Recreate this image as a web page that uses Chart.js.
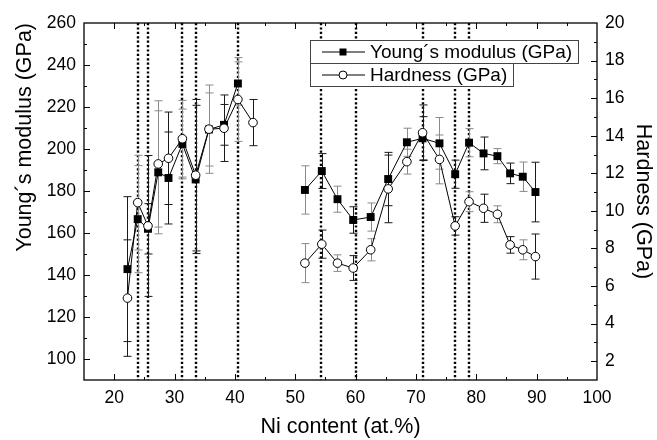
<!DOCTYPE html>
<html>
<head>
<meta charset="utf-8">
<script src="https://cdn.jsdelivr.net/npm/chart.js@4/dist/chart.umd.min.js"></script>
<style>
  html, body { margin: 0; padding: 0; background: #fff; }
  #wrap { width: 657px; height: 440px; }
</style>
</head>
<body>
<div id="wrap"><canvas id="chart" width="657" height="440"></canvas></div>
<script>
  // Ni content of each sample (at.%)
  const niContent = [22.2, 23.9, 25.6, 27.3, 29.0, 31.3, 33.5, 35.7, 38.2, 40.5, 43.0,
    51.6, 54.4, 57.0, 59.6, 62.5, 65.4, 68.5, 71.1, 73.9, 76.5, 78.8, 81.2, 83.5, 85.6, 87.7, 89.8];
  const youngModulus = [142.8, 166.6, 162.0, 188.9, 186.2, 202.4, 185.5, 209.3, 211.5, 231.2, null,
    180.5, 189.5, 176.1, 166.2, 167.6, 185.7, 203.2, 205.1, 202.7, 188.0, 203.0, 197.9, 196.6, 188.4, 186.8, 179.5];
  const youngError = [34.5, 25.5, 12, 29.3, 21.9, 16.6, 35.3, 17.4, 9.7, 10.3, null,
    11.5, 8.3, 6.2, 6.3, 6.7, 12.7, 6.7, 10.3, 12.3, 6.7, 6.7, 7.8, 3.6, 4.9, 7.0, 14.2];
  const hardness = [5.36, 10.44, 9.2, 12.5, 12.8, 13.84, 11.9, 14.35, 14.4, 15.93, 14.7,
    7.22, 8.23, 7.22, 6.96, 7.93, 11.17, 12.62, 14.16, 12.74, 9.2, 10.49, 10.14, 9.82, 8.19, 7.93, 7.57];
  const hardnessError = [3.1, 2.52, 3.75, 3.36, 2.46, 2.04, 4.03, 2.35, 1.77, 2.23, 1.23,
    1.04, 0.75, 0.44, 0.66, 0.59, 1.8, 0.66, 1.48, 1.3, 0.49, 0.53, 0.75, 0.45, 0.44, 0.53, 1.2];
  // dotted vertical lines
  const phaseBoundaries = [24.0, 25.6, 31.3, 33.5, 40.5, 54.2, 60.1, 71.2, 76.4, 78.8];

  const xTicks = [20, 30, 40, 50, 60, 70, 80, 90, 100];
  const youngTicks = [100, 120, 140, 160, 180, 200, 220, 240, 260];
  const hardnessTicks = [2, 4, 6, 8, 10, 12, 14, 16, 18, 20];

  const FONT = "'Liberation Sans', Arial, Helvetica, sans-serif";

  const toPoints = ys => niContent.map((x, i) => ({ x, y: ys[i] }));

  const overlay = {
    id: 'overlay',
    beforeDatasetsDraw(chart) {
      const { ctx, chartArea: a, scales } = chart;
      const x = scales.x;
      ctx.save();
      // phase boundaries
      ctx.strokeStyle = '#000';
      ctx.lineWidth = 2.4;
      ctx.setLineDash([2.2, 2.2]);
      phaseBoundaries.forEach(b => {
        const px = Math.round(x.getPixelForValue(b));
        ctx.beginPath(); ctx.moveTo(px, a.top); ctx.lineTo(px, a.bottom); ctx.stroke();
      });
      ctx.setLineDash([]);
      // error bars
      const bars = (vals, errs, scale) => {
        vals.forEach((v, i) => {
          if (v == null || errs[i] == null) return;
          const px = Math.round(x.getPixelForValue(niContent[i])) + 0.5;
          const t = scale.getPixelForValue(v + errs[i]);
          const b = scale.getPixelForValue(v - errs[i]);
          ctx.strokeStyle = i % 2 ? '#8a8a8a' : '#1a1a1a';
          ctx.lineWidth = 1;
          ctx.beginPath();
          ctx.moveTo(px, t); ctx.lineTo(px, b);
          ctx.moveTo(px - 4, t); ctx.lineTo(px + 4, t);
          ctx.moveTo(px - 4, b); ctx.lineTo(px + 4, b);
          ctx.stroke();
        });
      };
      bars(youngModulus, youngError, scales.y);
      bars(hardness, hardnessError, scales.y1);
      ctx.restore();
    },
    afterDraw(chart) {
      const { ctx, chartArea: a, scales: { x, y, y1 } } = chart;
      ctx.save();
      ctx.strokeStyle = '#000';
      ctx.lineWidth = 1.3;
      ctx.strokeRect(a.left, a.top, a.right - a.left, a.bottom - a.top);
      ctx.lineWidth = 1;
      ctx.beginPath();
      // x ticks, bottom and top, pointing in
      xTicks.forEach(v => {
        [[v, 6], [v - 5, 3]].forEach(([t, len]) => {
          if (t <= x.min || t >= x.max) return;
          const px = Math.round(x.getPixelForValue(t)) + 0.5;
          ctx.moveTo(px, a.bottom); ctx.lineTo(px, a.bottom - len);
          ctx.moveTo(px, a.top); ctx.lineTo(px, a.top + len);
        });
      });
      youngTicks.forEach(v => {
        [[v, 6], [v - 10, 3]].forEach(([t, len]) => {
          if (t <= y.min || t >= y.max) return;
          const py = Math.round(y.getPixelForValue(t)) + 0.5;
          ctx.moveTo(a.left, py); ctx.lineTo(a.left + len, py);
        });
      });
      hardnessTicks.forEach(v => {
        [[v, 6], [v - 1, 3]].forEach(([t, len]) => {
          if (t <= y1.min || t >= y1.max) return;
          const py = Math.round(y1.getPixelForValue(t)) + 0.5;
          ctx.moveTo(a.right, py); ctx.lineTo(a.right - len, py);
        });
      });
      ctx.stroke();

      // legend
      const rows = [
        { ds: chart.data.datasets[1], right: 578 },
        { ds: chart.data.datasets[0], right: 513 }
      ];
      const lx = 310, top = 40, rh = 23;
      ctx.font = '19px ' + FONT;
      ctx.textBaseline = 'middle';
      rows.forEach((r, i) => {
        const ty = top + i * rh;
        ctx.fillStyle = '#fff';
        ctx.fillRect(lx, ty, r.right - lx, rh);
        ctx.strokeStyle = '#444';
        ctx.lineWidth = 1;
        ctx.strokeRect(lx + 0.5, ty + 0.5, r.right - lx, rh);
        const cy = ty + rh / 2 + 0.5;
        ctx.strokeStyle = '#000';
        ctx.beginPath(); ctx.moveTo(322, cy); ctx.lineTo(365, cy); ctx.stroke();
        if (r.ds.pointStyle === 'rect') {
          ctx.fillStyle = '#000';
          ctx.fillRect(339.5, cy - 3.5, 7, 7);
        } else {
          ctx.beginPath(); ctx.arc(343, cy, 4, 0, Math.PI * 2);
          ctx.fillStyle = '#fff'; ctx.fill(); ctx.stroke();
        }
        ctx.fillStyle = '#000';
        ctx.fillText(r.ds.label, 370, cy + 1);
      });
      ctx.restore();
    }
  };

  new Chart(document.getElementById('chart'), {
    type: 'line',
    data: {
      datasets: [
        {
          label: 'Hardness (GPa)', data: toPoints(hardness), yAxisID: 'y1', order: 0,
          borderColor: '#000', borderWidth: 1, pointStyle: 'circle', pointRadius: 4.3,
          pointBackgroundColor: '#fff', pointBorderColor: '#000', pointBorderWidth: 1,
          segment: { borderColor: c => c.p1.parsed.x - c.p0.parsed.x > 6 ? 'transparent' : '#000' }
        },
        {
          label: 'Young´s modulus (GPa)', data: toPoints(youngModulus), yAxisID: 'y', order: 1,
          borderColor: '#000', borderWidth: 1, pointStyle: 'rect', pointRadius: 5.6,
          pointBackgroundColor: '#000', pointBorderColor: '#000', pointBorderWidth: 0,
          spanGaps: false
        }
      ]
    },
    options: {
      responsive: false, animation: false, devicePixelRatio: 1,
      layout: { padding: { top: 23, left: 0, right: 0, bottom: 0 } },
      plugins: { legend: { display: false }, tooltip: { enabled: false } },
      scales: {
        x: {
          type: 'linear', min: 15, max: 100,
          afterFit: s => { s.height = 60; },
          afterBuildTicks: s => { s.ticks = xTicks.map(v => ({ value: v })); },
          grid: { display: false, drawTicks: false }, border: { display: false },
          ticks: { color: '#000', font: { family: FONT, size: 17.5 }, padding: 8, maxRotation: 0 },
          title: { display: true, text: 'Ni content (at.%)', color: '#000', font: { family: FONT, size: 21.5 }, padding: { top: 0, bottom: 0 } }
        },
        y: {
          position: 'left', min: 90, max: 260,
          afterFit: s => { s.width = 84; },
          afterBuildTicks: s => { s.ticks = youngTicks.map(v => ({ value: v })); },
          grid: { display: false, drawTicks: false }, border: { display: false },
          ticks: { color: '#000', font: { family: FONT, size: 17.5 }, padding: 8 },
          title: { display: true, text: 'Young´s modulus (GPa)', align: 'end', color: '#000', font: { family: FONT, size: 21.5 }, padding: { top: 12, bottom: 0 } }
        },
        y1: {
          position: 'right', min: 1, max: 20,
          afterFit: s => { s.width = 60; },
          afterBuildTicks: s => { s.ticks = hardnessTicks.map(v => ({ value: v })); },
          grid: { display: false, drawTicks: false }, border: { display: false },
          ticks: { color: '#000', font: { family: FONT, size: 17.5 }, padding: 8 },
          title: { display: true, text: 'Hardness (GPa)', color: '#000', font: { family: FONT, size: 21.5 }, padding: { top: 1, bottom: 0 } }
        }
      }
    },
    plugins: [overlay]
  });
</script>
</body>
</html>
